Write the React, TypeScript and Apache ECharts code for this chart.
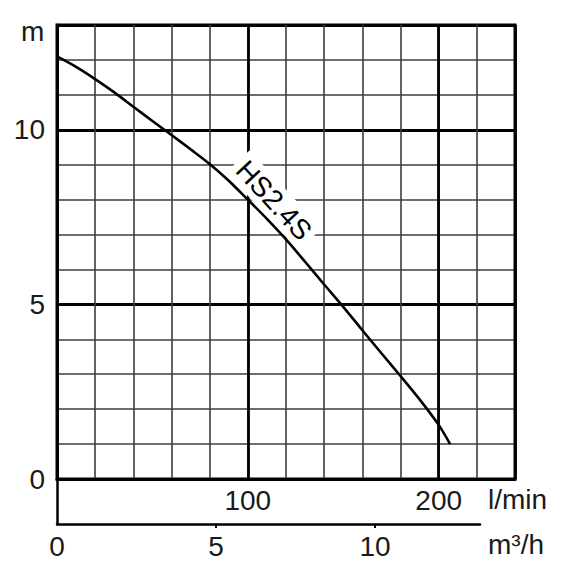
import React, { useEffect, useRef } from "react";
import * as echarts from "echarts";

// Flow (l/min) and head (m)
const flowLpm = [0, 10, 20, 30, 40, 50, 60, 70, 80, 90, 100, 110, 120, 130, 140, 150, 160, 170, 180, 190, 200, 206];
const headM = [12.1, 11.8, 11.45, 11.07, 10.66, 10.25, 9.85, 9.44, 9.02, 8.54, 8.0, 7.45, 6.86, 6.22, 5.57, 4.93, 4.26, 3.6, 2.95, 2.28, 1.55, 1.0];
const lpmLabels = [100, 200];
const m3hLabels = [0, 5, 10];
const headLabels = [0, 5, 10];
const seriesName = "HS2.4S";
const labelFlow = 107;

const FONT = "Liberation Sans, Arial, sans-serif";
const TXT = "#1a1a1a";
const FS = 28;

export default function App() {
  const ref = useRef<HTMLDivElement>(null);
  useEffect(() => {
    if (!ref.current) return;
    const chart = echarts.init(ref.current, null, { renderer: "svg" });
    const thin = { color: "#3c3c3c", width: 1.6 };
    const thick = { color: "#000", width: 2.8 };
    const option: any = {
      animation: false,
      backgroundColor: "#fff",
      grid: [
        { left: 57, top: 25, width: 458, height: 454, show: true, borderColor: "#000", borderWidth: 3, backgroundColor: "transparent" },
        { left: 57, top: 479, width: 423, height: 45, show: false },
      ],
      xAxis: [
        {
          type: "value", gridIndex: 0, min: 0, max: 240, interval: 20, position: "bottom",
          axisLine: { show: true, lineStyle: { color: "#000", width: 3 } },
          axisTick: { show: false },
          axisLabel: {
            show: true, margin: 7, fontSize: FS, fontFamily: FONT, color: TXT,
            formatter: (v: number) => (lpmLabels.includes(v) ? String(v) : ""),
          },
          splitLine: { show: true, lineStyle: thin },
        },
        {
          type: "value", gridIndex: 0, min: 0, max: 240, interval: 100, position: "top",
          axisLine: { show: false }, axisTick: { show: false }, axisLabel: { show: false },
          splitLine: { show: true, lineStyle: thick },
        },
        {
          type: "value", gridIndex: 1, min: 0, max: 13.3, interval: 5, position: "bottom",
          axisLine: { show: true, onZero: false, lineStyle: { color: "#000", width: 2.5 } },
          axisTick: { show: true, length: 4, customValues: [5, 10], lineStyle: { color: "#000", width: 2 } },
          axisLabel: { show: true, margin: 8, fontSize: FS, fontFamily: FONT, color: TXT, customValues: m3hLabels },
          splitLine: { show: false },
        },
      ],
      yAxis: [
        {
          type: "value", gridIndex: 0, min: 0, max: 13, interval: 1,
          axisLine: { show: true, lineStyle: { color: "#000", width: 3 } },
          axisTick: { show: false },
          axisLabel: {
            show: true, margin: 12, fontSize: FS, fontFamily: FONT, color: TXT,
            formatter: (v: number) => (headLabels.includes(v) ? String(v) : ""),
          },
          splitLine: { show: true, lineStyle: thin },
        },
        {
          type: "value", gridIndex: 0, min: 0, max: 13, interval: 5, position: "right",
          axisLine: { show: false }, axisTick: { show: false }, axisLabel: { show: false },
          splitLine: { show: true, lineStyle: thick },
        },
        {
          type: "value", gridIndex: 1, min: 0, max: 1,
          axisLine: { show: true, onZero: false, lineStyle: { color: "#000", width: 2.5 } },
          axisTick: { show: false }, axisLabel: { show: false }, splitLine: { show: false },
        },
      ],
      series: [
        {
          name: seriesName, type: "line", xAxisIndex: 0, yAxisIndex: 0,
          data: flowLpm.map((f, i) => [f, headM[i]]),
          showSymbol: false, smooth: 0.3,
          lineStyle: { color: "#000", width: 2.6 },
          z: 5,
        },
      ],
    };
    chart.setOption(option);
    // place the curve label just above the curve, following its direction
    const k = flowLpm.findIndex((f) => f > labelFlow);
    const t = (labelFlow - flowLpm[k - 1]) / (flowLpm[k] - flowLpm[k - 1]);
    const h = headM[k - 1] + t * (headM[k] - headM[k - 1]);
    const a = chart.convertToPixel({ xAxisIndex: 0, yAxisIndex: 0 }, [flowLpm[k - 1], headM[k - 1]]) as number[];
    const b = chart.convertToPixel({ xAxisIndex: 0, yAxisIndex: 0 }, [flowLpm[k], headM[k]]) as number[];
    const p = chart.convertToPixel({ xAxisIndex: 0, yAxisIndex: 0 }, [labelFlow, h]) as number[];
    const ang = Math.atan2(b[1] - a[1], b[0] - a[0]);
    const off = 18;
    const cx = p[0] + off * Math.sin(ang);
    const cy = p[1] - off * Math.cos(ang);
    chart.setOption({
      graphic: [
        {
          type: "text", x: cx, y: cy, rotation: -ang - (2 * Math.PI) / 180, z: 3,
          style: {
            text: seriesName, fontSize: FS, fontFamily: FONT, fill: "#000",
            align: "center", verticalAlign: "middle",
            backgroundColor: "#fff", padding: [2, 5],
          },
        },
        { type: "text", left: 21, top: 17, z: 3, style: { text: "m", fontSize: FS, fontFamily: FONT, fill: TXT } },
        { type: "text", left: 488, top: 485, z: 3, style: { text: "l/min", fontSize: FS, fontFamily: FONT, fill: TXT } },
        { type: "text", left: 488, top: 530, z: 3, style: { text: "m³/h", fontSize: FS, fontFamily: FONT, fill: TXT } },
      ],
    });
    return () => chart.dispose();
  }, []);
  return <div ref={ref} style={{ position: "fixed", left: 0, top: 0, width: 577, height: 567 }} />;
}
